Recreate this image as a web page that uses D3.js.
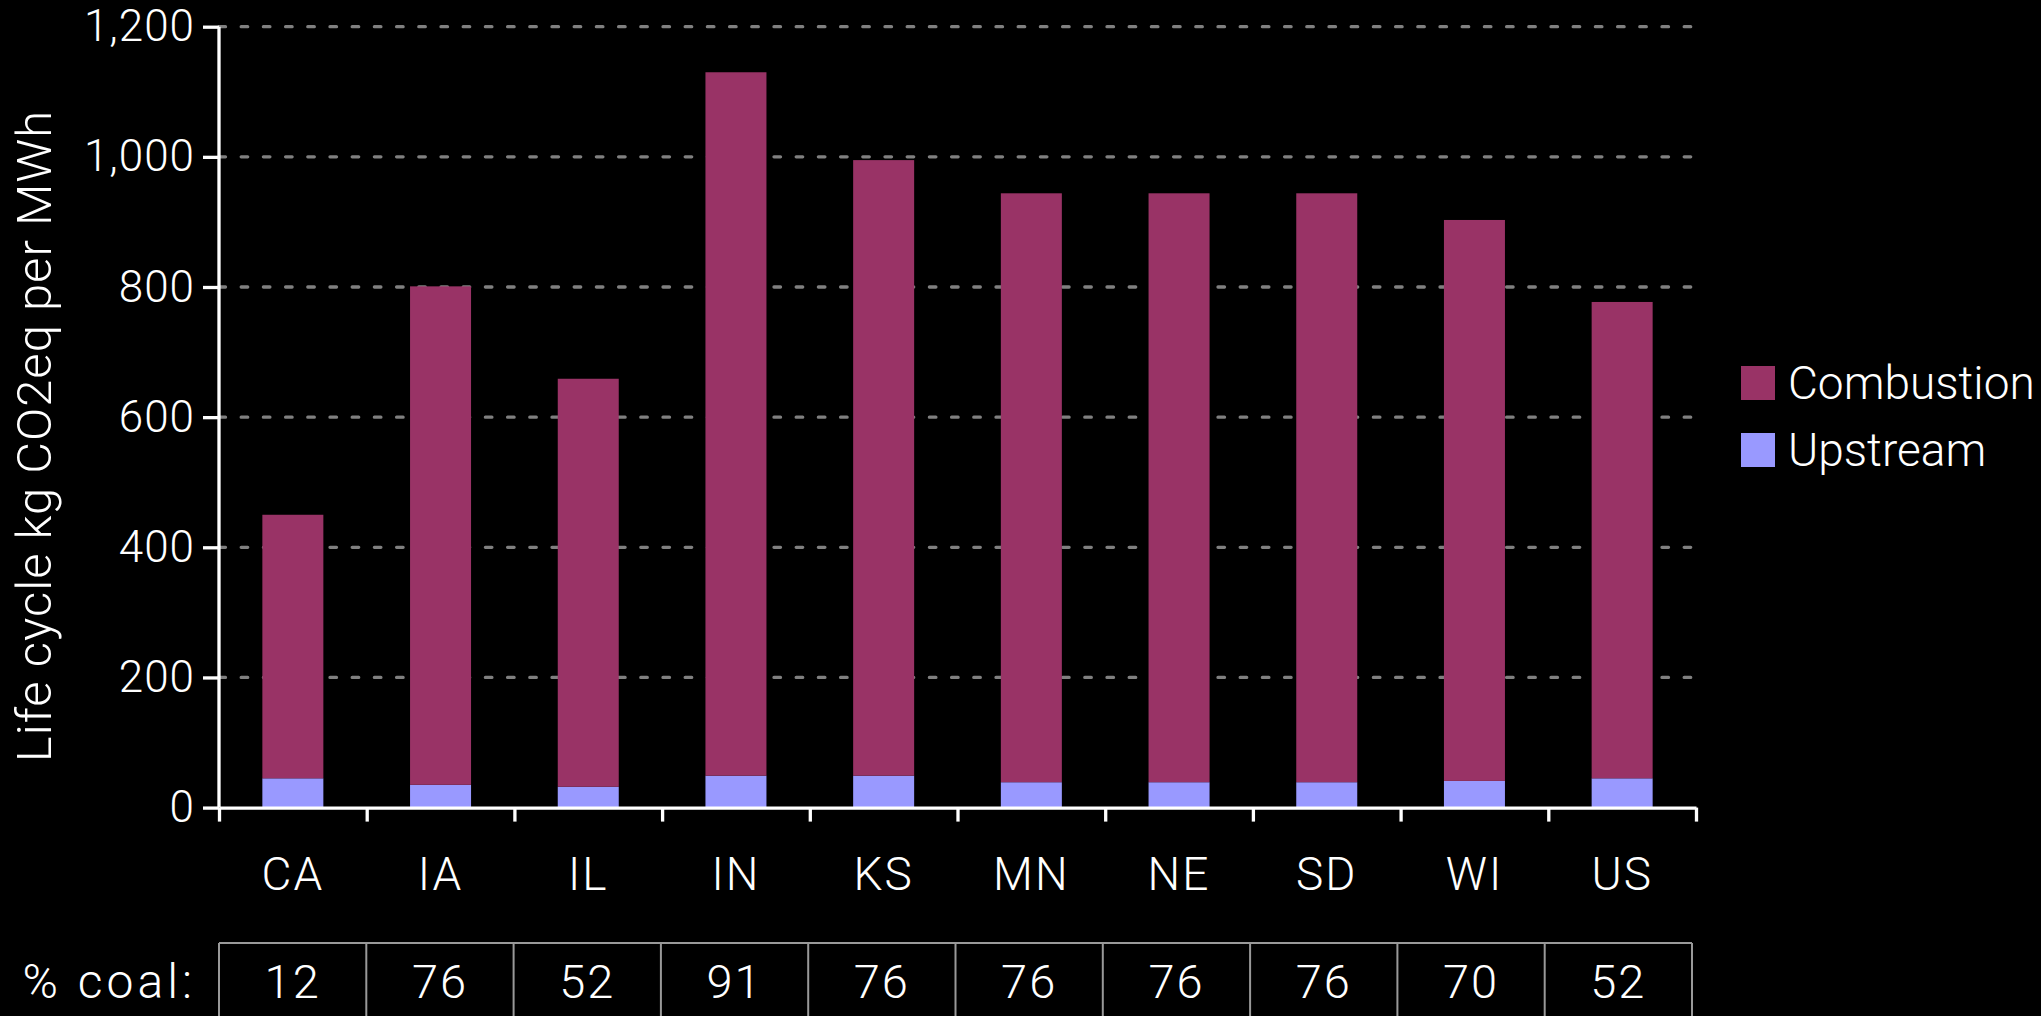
<!DOCTYPE html>
<html>
<head>
<meta charset="utf-8">
<script src="https://cdn.jsdelivr.net/npm/d3@7"></script>
<style>
  html, body { margin: 0; padding: 0; background: #000; }
  svg { display: block; }
  text { font-family: "Roboto", "Liberation Sans", sans-serif; font-weight: 300; fill: #fff; }
</style>
</head>
<body>
<svg id="chart" width="2041" height="1016"></svg>
<script>
// ---- data ----
const categories = ["CA", "IA", "IL", "IN", "KS", "MN", "NE", "SD", "WI", "US"];
const upstream   = [45, 35, 32, 49, 49, 39, 39, 39, 41, 45];
const combustion = [405, 766, 627, 1081, 946, 905, 905, 905, 862, 732];
const coalPct    = [12, 76, 52, 91, 76, 76, 76, 76, 70, 52];
const seriesNames = ["Upstream", "Combustion"];
const legendOrder = ["Combustion", "Upstream"];
const seriesColors = { "Combustion": "#993366", "Upstream": "#9999FF" };
const yTicks = [0, 200, 400, 600, 800, 1000, 1200];

// ---- layout ----
const svg = d3.select("#chart");
const plotLeft = 219, plotRight = 1696, plotTop = 26.7, plotBottom = 807.6;

const x = d3.scaleBand().domain(categories).range([plotLeft, plotRight])
  .paddingInner(0.587).paddingOuter(0.2935);
const xEdges = d3.scaleLinear().domain([0, categories.length]).range([plotLeft, plotRight]);
const y = d3.scaleLinear().domain([0, 1200]).range([plotBottom, plotTop]);

const rows = categories.map((c, i) => ({ cat: c, Upstream: upstream[i], Combustion: combustion[i] }));
const stacked = d3.stack().keys(seriesNames)(rows);

// gridlines
svg.append("g").selectAll("line").data(yTicks.filter(d => d > 0)).join("line")
  .attr("x1", plotLeft).attr("x2", plotRight)
  .attr("y1", d => y(d)).attr("y2", d => y(d))
  .attr("stroke", "#808080").attr("stroke-width", 3.3)
  .attr("stroke-dasharray", "6.5 15.7").attr("stroke-linecap", "round");

// bars
svg.append("g").selectAll("g").data(stacked).join("g")
  .attr("fill", d => seriesColors[d.key])
  .selectAll("rect").data(d => d).join("rect")
  .attr("x", d => x(d.data.cat))
  .attr("width", x.bandwidth())
  .attr("y", d => y(d[1]))
  .attr("height", d => y(d[0]) - y(d[1]));

// y axis
const yAxis = svg.append("g").attr("transform", `translate(${plotLeft},0)`)
  .call(d3.axisLeft(y).tickValues(yTicks).tickFormat(d3.format(",")).tickSize(16).tickPadding(8));
yAxis.select(".domain").attr("stroke", "#fff").attr("stroke-width", 3.3).attr("d", `M0,${plotTop}V${plotBottom}`);
yAxis.selectAll(".tick line").attr("stroke", "#fff").attr("stroke-width", 3.3);
yAxis.selectAll(".tick text").attr("fill", "#fff").style("font-size", "44px")
  .style("letter-spacing", "1px")
  .style("font-family", '"Roboto", "Liberation Sans", sans-serif').style("font-weight", 300);

// x axis (ticks at band edges)
const xAxis = svg.append("g").attr("transform", `translate(0,${plotBottom})`)
  .call(d3.axisBottom(xEdges).ticks(categories.length).tickFormat("").tickSize(14).tickSizeOuter(0));
xAxis.select(".domain").attr("stroke", "#fff").attr("stroke-width", 3.3);
xAxis.selectAll(".tick line").attr("stroke", "#fff").attr("stroke-width", 3.3);

// category labels
svg.append("g").selectAll("text").data(categories).join("text")
  .attr("x", d => x(d) + x.bandwidth() / 2).attr("y", 890)
  .attr("text-anchor", "middle").style("font-size", "46px").style("letter-spacing", "2px").text(d => d);

// y title
svg.append("text")
  .attr("transform", "translate(51,436) rotate(-90)")
  .attr("text-anchor", "middle").style("font-size", "49px").style("letter-spacing", "1px")
  .text("Life cycle kg CO2eq per MWh");

// legend
const leg = svg.append("g");
legendOrder.forEach((k, i) => {
  const yy = 366 + i * 67;
  leg.append("rect").attr("x", 1741).attr("y", yy).attr("width", 34).attr("height", 34).attr("fill", seriesColors[k]);
  leg.append("text").attr("x", 1788).attr("y", yy + 33).style("font-size", "46px").text(k);
});

// coal table
const tableTop = 943, tableRight = 1692;
const tx = d3.scaleLinear().domain([0, categories.length]).range([plotLeft, tableRight]);
const tbl = svg.append("g");
tbl.append("line").attr("x1", tx(0)).attr("x2", tx(categories.length))
  .attr("y1", tableTop).attr("y2", tableTop).attr("stroke", "#999").attr("stroke-width", 2);
tbl.selectAll("line.v").data(d3.range(categories.length + 1)).join("line").attr("class", "v")
  .attr("x1", d => tx(d)).attr("x2", d => tx(d)).attr("y1", tableTop).attr("y2", 1016)
  .attr("stroke", "#999").attr("stroke-width", 2);
tbl.selectAll("text.v").data(coalPct).join("text").attr("class", "v")
  .attr("x", (d, i) => (tx(i) + tx(i + 1)) / 2).attr("y", 998)
  .attr("text-anchor", "middle").style("font-size", "47px").style("letter-spacing", "2px").text(d => d);
svg.append("text").attr("x", 196).attr("y", 998).attr("text-anchor", "end")
  .style("font-size", "48px").style("letter-spacing", "4px").text("% coal:");
</script>
</body>
</html>
